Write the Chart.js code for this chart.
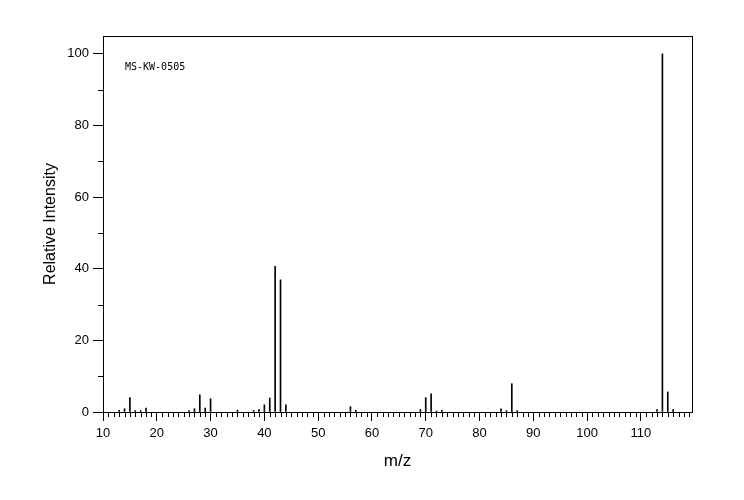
<!DOCTYPE html>
<html>
<head>
<meta charset="utf-8">
<script src="https://cdn.jsdelivr.net/npm/chart.js@4.4.1/dist/chart.umd.min.js"></script>
<style>
    html, body { margin: 0; padding: 0; background: #fff; }
    #wrap { width: 744px; height: 500px; }
</style>
</head>
<body>
<div id="wrap"><canvas id="ms_chart" width="744" height="500"></canvas></div>
<script>
"use strict";

// Spectrum peaks: m/z and relative intensity (%)
var mzValues = [13, 14, 15, 16, 17, 18, 26, 27, 28, 29, 30, 35, 38, 39, 40, 41, 42, 43, 44,
    56, 57, 69, 70, 71, 72, 73, 84, 85, 86, 87, 113, 114, 115, 116];
var intensities = [0.5, 0.9, 4.0, 0.4, 0.4, 1.1, 0.4, 0.9, 4.8, 1.1, 3.7, 0.5, 0.4, 0.7, 2.0, 3.9, 40.7, 36.9, 2.0,
    1.5, 0.5, 0.7, 4.0, 5.1, 0.3, 0.5, 0.9, 0.4, 7.9, 0.4, 0.7, 100, 5.6, 0.7];

// Axis ranges and labels
var xRange = [10, 119.5];
var yRange = [0, 105];
var sampleCode = 'MS-KW-0505';

var textFont = 'Liberation Sans';

// Small ticks between the labelled ones, placed through the chart's own scales
var minorTicks = {
    id: 'minorTicks',
    afterDraw: function (chart) {
        var ctx = chart.ctx;
        var area = chart.chartArea;
        var xs = chart.scales.x;
        var ys = chart.scales.y;
        ctx.save();
        ctx.strokeStyle = '#000';
        ctx.lineWidth = 1;
        ctx.beginPath();
        for (var v = Math.ceil(xs.min); v <= xs.max; v++) {
            if (v % 10 === 0) continue;
            var px = Math.round(xs.getPixelForValue(v)) + 0.5;
            ctx.moveTo(px, area.bottom);
            ctx.lineTo(px, area.bottom + 5);
        }
        for (var w = 10; w <= ys.max; w += 20) {
            var py = Math.round(ys.getPixelForValue(w)) + 0.5;
            ctx.moveTo(area.left - 5, py);
            ctx.lineTo(area.left, py);
        }
        ctx.stroke();

        // Frame round the plot
        ctx.strokeRect(Math.round(area.left) + 0.5, Math.round(area.top) + 0.5,
            Math.round(area.right - area.left), Math.round(area.bottom - area.top));

        // Sample code in the top left corner
        ctx.fillStyle = '#000';
        ctx.font = '10px "DejaVu Sans Mono"';
        ctx.textBaseline = 'middle';
        ctx.fillText(sampleCode, area.left + 22, area.top + 31);
        ctx.restore();
    }
};

var ctx = document.getElementById('ms_chart');

const data = {
    datasets: [
        {
            label: 'Relative Intensity',
            data: mzValues.map(function (mz, i) { return { x: mz, y: intensities[i] }; }),
            backgroundColor: '#000',
            borderWidth: 0,
            barThickness: 1
        }
    ]
};

const config = {
    type: 'bar',
    data: data,
    options: {
        responsive: false,
        animation: false,
        devicePixelRatio: 1,
        layout: {
            padding: { top: 36, right: 52, left: 0, bottom: 0 }
        },
        plugins: {
            legend: { display: false },
            tooltip: { enabled: false }
        },
        scales: {
            x: {
                type: 'linear',
                min: xRange[0],
                max: xRange[1],
                offset: false,
                border: { display: false },
                grid: { drawOnChartArea: false, drawTicks: true, tickLength: 9, color: '#000', offset: false },
                ticks: {
                    stepSize: 10,
                    includeBounds: false,
                    autoSkip: false,
                    maxRotation: 0,
                    padding: 5,
                    color: '#000',
                    font: { family: textFont, size: 13 }
                },
                title: {
                    display: true,
                    text: 'm/z',
                    color: '#000',
                    font: { family: textFont, size: 17 },
                    padding: { top: 0, bottom: 28 }
                },
                afterFit: function (scale) { scale.height = 88; }
            },
            y: {
                type: 'linear',
                min: yRange[0],
                max: yRange[1],
                border: { display: false },
                grid: { drawOnChartArea: false, drawTicks: true, tickLength: 10, color: '#000' },
                ticks: {
                    stepSize: 20,
                    includeBounds: false,
                    padding: 4,
                    color: '#000',
                    font: { family: textFont, size: 13 }
                },
                title: {
                    display: true,
                    text: 'Relative Intensity',
                    color: '#000',
                    font: { family: textFont, size: 16 },
                    padding: { top: 41, bottom: 0 }
                },
                afterFit: function (scale) { scale.width = 103; }
            }
        }
    },
    plugins: [minorTicks]
};

var myChart = new Chart(ctx, config);
</script>
</body>
</html>
